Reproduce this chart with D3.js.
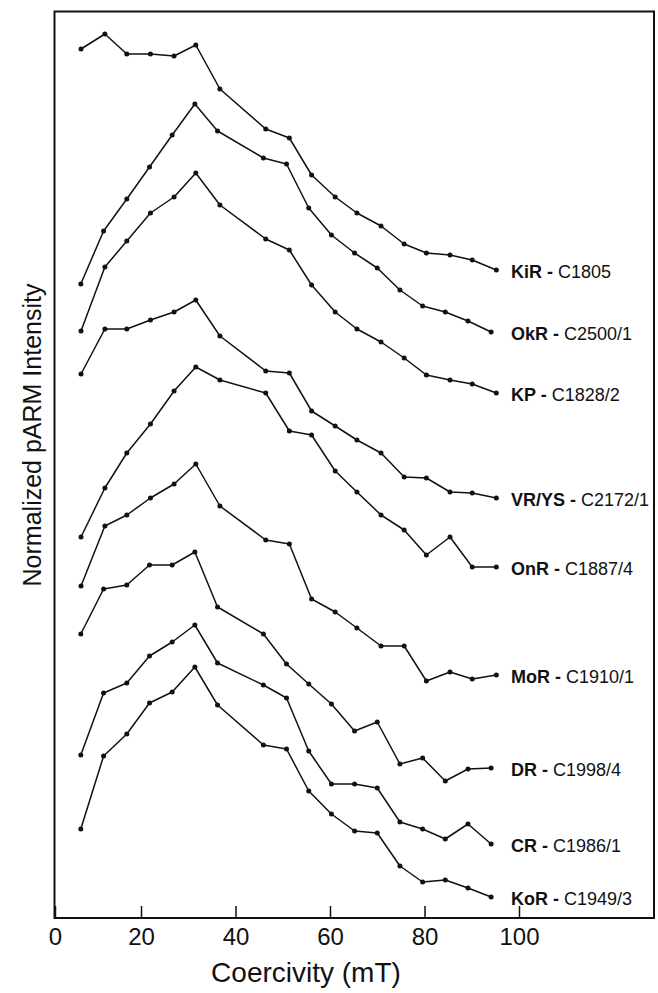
<!DOCTYPE html>
<html>
<head>
<meta charset="utf-8">
<script src="https://cdn.jsdelivr.net/npm/d3@7"></script>
<style>
  body { margin: 0; background: #fff; }
  svg { display: block; font-family: "Liberation Sans", Arial, Helvetica, sans-serif; }
</style>
</head>
<body>
<div id="chart"></div>
<script>
// coercivity steps (mT) - two slightly different sets of steps in the figure
var stepsA = [6.05, 11.6, 16.7, 22.0, 27.0, 31.6, 36.7, 46.4, 51.4, 56.1, 61.1, 65.7, 70.8, 75.7, 80.4, 85.4, 90.1, 95.2];
var stepsB = [6.0, 11.3, 16.7, 21.8, 26.6, 31.4, 36.2, 45.9, 50.8, 55.5, 60.3, 65.2, 70.0, 74.8, 79.6, 84.4, 89.2, 94.1];

// normalized pARM intensity, curves offset vertically (arbitrary units)
var kiR  = [86.9, 88.4, 86.4, 86.4, 86.2, 87.3, 82.9, 78.9, 78.0, 74.3, 72.1, 70.5, 69.2, 67.4, 66.5, 66.3, 65.8, 64.8];
var okR  = [63.4, 68.7, 71.9, 75.1, 78.3, 81.4, 78.7, 76.0, 75.4, 71.0, 68.3, 66.5, 65.0, 62.8, 61.2, 60.6, 59.7, 58.6];
var kP   = [58.7, 65.1, 67.7, 70.5, 72.1, 74.5, 71.3, 67.9, 66.8, 63.3, 60.6, 58.9, 57.6, 56.0, 54.3, 53.8, 53.4, 52.5];
var vrYS = [54.4, 58.9, 58.9, 59.8, 60.6, 61.8, 58.2, 54.7, 54.5, 50.7, 49.2, 47.8, 46.5, 44.1, 44.0, 42.6, 42.5, 42.0];
var onR  = [38.1, 43.0, 46.5, 49.4, 52.7, 55.1, 53.8, 52.5, 48.7, 48.3, 44.7, 42.6, 40.3, 38.8, 36.3, 38.1, 35.1, 35.1];
var moR  = [33.2, 39.2, 40.3, 42.0, 43.4, 45.4, 41.2, 37.8, 37.4, 31.9, 30.6, 29.0, 27.2, 27.2, 23.7, 24.6, 23.9, 24.3];
var dR   = [28.4, 32.9, 33.3, 35.3, 35.3, 36.6, 31.1, 28.4, 25.4, 23.4, 21.4, 18.7, 19.6, 15.4, 16.0, 13.7, 14.9, 15.0];
var cR   = [16.3, 22.5, 23.5, 26.2, 27.6, 29.3, 25.5, 23.3, 22.0, 16.7, 13.4, 13.4, 13.0, 9.6, 8.9, 7.9, 9.4, 7.4];
var koR  = [8.9, 16.2, 18.4, 21.5, 22.6, 25.1, 21.3, 17.3, 16.9, 12.7, 10.4, 8.7, 8.5, 5.2, 3.6, 3.8, 3.0, 2.1];

var names = ["KiR", "OkR", "KP", "VR/YS", "OnR", "MoR", "DR", "CR", "KoR"];
var codes = ["C1805", "C2500/1", "C1828/2", "C2172/1", "C1887/4", "C1910/1", "C1998/4", "C1986/1", "C1949/3"];
var values = [kiR, okR, kP, vrYS, onR, moR, dR, cR, koR];
var steps = [stepsA, stepsB, stepsA, stepsA, stepsA, stepsA, stepsB, stepsB, stepsB];

var xTicks = [0, 20, 40, 60, 80, 100];

var width = 658, height = 993;
var frame = {left: 54.5, top: 11.5, right: 654, bottom: 918};

var svg = d3.select("#chart").append("svg")
    .attr("width", width)
    .attr("height", height);

// the original axis is slightly stretched past 20 mT
var x = d3.scaleLinear()
    .domain([0, 20, 100])
    .range([55, 141, 519]);

var y = d3.scaleLinear()
    .domain([0, 90.65])
    .range([frame.bottom, frame.top]);

var series = names.map(function(n, i) {
  return {
    name: n,
    code: codes[i],
    points: values[i].map(function(v, j) { return {x: steps[i][j], y: v}; })
  };
});

var line = d3.line()
    .x(function(d) { return x(d.x); })
    .y(function(d) { return y(d.y); });

var g = svg.append("g");

var curves = g.selectAll(".curve")
    .data(series)
    .enter().append("g")
    .attr("class", "curve");

curves.append("path")
    .attr("d", function(d) { return line(d.points); })
    .attr("fill", "none")
    .attr("stroke", "#111")
    .attr("stroke-width", 1.5)
    .attr("stroke-linejoin", "round");

curves.selectAll("circle")
    .data(function(d) { return d.points; })
    .enter().append("circle")
    .attr("cx", function(d) { return x(d.x); })
    .attr("cy", function(d) { return y(d.y); })
    .attr("r", 2.5)
    .attr("fill", "#111");

var labels = curves.append("text")
    .attr("x", 511)
    .attr("y", function(d) { return y(d.points[d.points.length - 1].y) + 2; })
    .attr("dy", "0.35em")
    .attr("font-size", 18)
    .attr("fill", "#111");

labels.append("tspan")
    .attr("font-weight", "bold")
    .text(function(d) { return d.name + " -"; });

labels.append("tspan")
    .text(function(d) { return " " + d.code; });

// frame
svg.append("rect")
    .attr("x", frame.left)
    .attr("y", frame.top)
    .attr("width", frame.right - frame.left)
    .attr("height", frame.bottom - frame.top)
    .attr("fill", "none")
    .attr("stroke", "#111")
    .attr("stroke-width", 2);

var xAxis = svg.append("g")
    .attr("transform", "translate(0," + frame.bottom + ")")
    .call(d3.axisBottom(x).tickValues(xTicks).tickSize(-12).tickPadding(10).tickFormat(d3.format("d")));

xAxis.select(".domain").remove();
xAxis.selectAll(".tick line").attr("stroke", "#111").attr("stroke-width", 1.5);
xAxis.selectAll(".tick text")
    .attr("font-size", 24)
    .attr("font-family", "'Liberation Sans', Arial, Helvetica, sans-serif")
    .attr("fill", "#111");

svg.append("text")
    .attr("x", 306)
    .attr("y", 982)
    .attr("text-anchor", "middle")
    .attr("font-size", 28)
    .attr("fill", "#111")
    .text("Coercivity (mT)");

svg.append("text")
    .attr("transform", "translate(40.5,435) rotate(-90)")
    .attr("text-anchor", "middle")
    .attr("font-size", 25)
    .attr("fill", "#111")
    .text("Normalized pARM Intensity");
</script>
</body>
</html>
